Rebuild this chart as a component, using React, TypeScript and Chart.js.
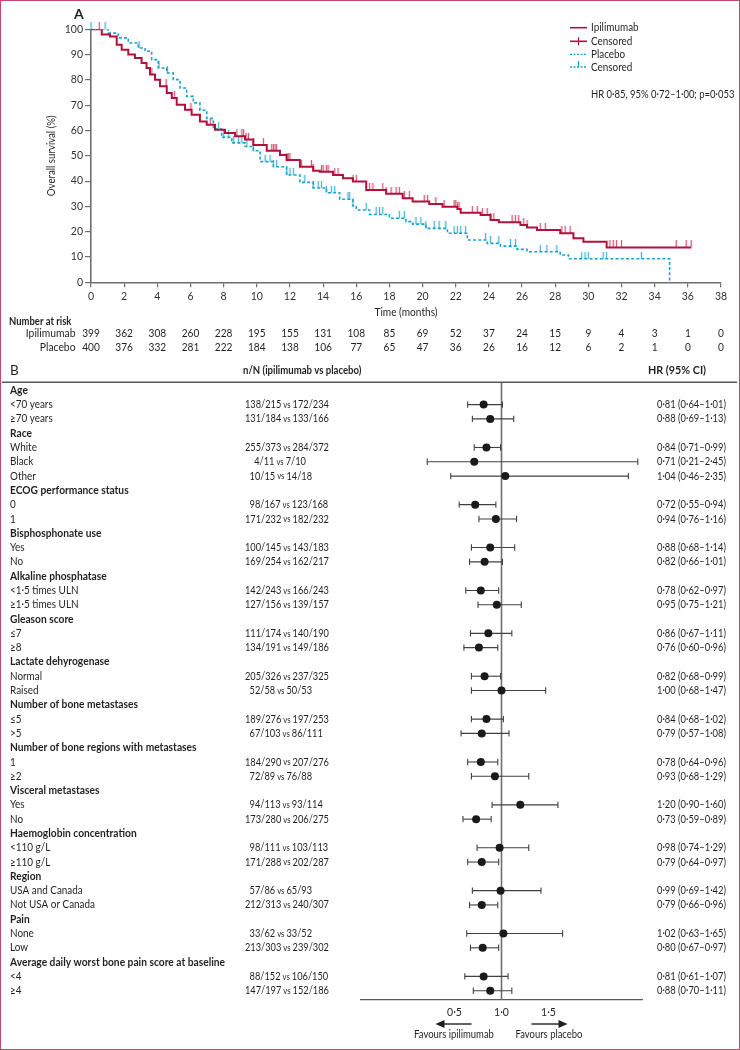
import React, { useEffect, useRef } from "react";
import { Chart, registerables } from "chart.js";

Chart.register(...registerables);

const FONT = "Lato, 'Noto Sans', sans-serif";
const INK = "#231f20";
const AXIS = "#6d6e71";
const RED = "#b0123c";
const RED_TICK = "#d4587c";
const CYAN = "#1ba2cb";
const CYAN_TICK = "#45b4d8";

// ---------- Panel A data ----------
const monthTicks = [0, 2, 4, 6, 8, 10, 12, 14, 16, 18, 20, 22, 24, 26, 28, 30, 32, 34, 36, 38];
const survivalTicks = [0, 10, 20, 30, 40, 50, 60, 70, 80, 90, 100];

const ipiTime = [0, 0.65, 1.15, 1.55, 1.85, 2.25, 2.65, 3.05, 3.35, 3.56, 3.86, 4.16, 4.57, 4.87, 5.17, 5.67, 6.07, 6.57, 6.98, 7.48, 8.08, 8.69, 9.29, 9.79, 10.6, 11.4, 11.8, 12.6, 13.4, 13.8, 14.6, 15.2, 15.8, 16.6, 17.8, 18.8, 19.4, 20.4, 21.2, 22.1, 22.3, 23.5, 24.1, 24.6, 25.9, 26.3, 26.9, 28.3, 29.1, 29.7, 31.1, 36.2];
const ipiSurv = [100, 97.9, 97.2, 93.9, 91.9, 90.0, 88.7, 86.7, 84.7, 82.1, 80.1, 77.5, 74.8, 72.8, 70.2, 68.2, 66.2, 63.6, 62.3, 60.3, 59.0, 57.7, 56.4, 54.3, 52.0, 50.3, 48.3, 45.7, 44.1, 43.7, 42.4, 41.1, 39.8, 36.5, 35.0, 33.2, 31.9, 30.9, 29.9, 29.0, 27.5, 26.6, 24.6, 23.7, 22.6, 21.7, 20.7, 19.4, 17.4, 16.0, 13.8, 13.8];

const plaTime = [0, 1.04, 1.65, 2.25, 2.85, 3.26, 3.66, 4.06, 4.57, 4.96, 5.37, 5.77, 6.17, 6.57, 6.98, 7.38, 7.88, 8.49, 9.29, 9.79, 10.2, 11.0, 11.8, 12.6, 13.4, 14.2, 15.0, 15.8, 16.0, 16.8, 18.0, 19.0, 19.4, 20.2, 21.5, 22.7, 23.9, 24.7, 25.7, 26.3, 28.3, 28.8, 34.9, 34.9];
const plaSurv = [100, 98.5, 96.6, 94.6, 92.6, 91.3, 88.0, 84.7, 82.7, 80.1, 76.8, 73.5, 70.9, 68.0, 64.8, 60.6, 57.3, 55.1, 53.7, 52.0, 47.7, 45.7, 42.4, 39.5, 37.3, 35.4, 32.8, 30.2, 28.6, 26.8, 25.3, 24.0, 23.0, 21.3, 19.4, 16.7, 15.4, 14.3, 13.0, 12.1, 10.8, 9.3, 9.3, 0];

const ipiCensorTimes = [0.5, 3.67, 4.53, 5.03, 6.03, 7.2, 8.8, 9.1, 9.2, 9.35, 9.5, 9.8, 10.4, 10.9, 11.0, 11.1, 11.2, 11.8, 11.9, 12.0, 12.7, 13.3, 13.4, 13.9, 14.0, 14.2, 14.3, 14.7, 14.9, 15.8, 16.0, 16.8, 17.0, 17.6, 17.8, 18.1, 18.4, 18.6, 18.9, 19.2, 20.1, 20.3, 20.8, 21.3, 21.9, 22.0, 22.1, 22.2, 23.0, 23.3, 23.6, 23.9, 24.1, 24.3, 25.4, 25.6, 25.8, 26.1, 26.3, 27.1, 27.4, 28.4, 28.6, 28.9, 31.3, 31.5, 31.7, 32.0, 35.3, 35.9, 36.2];
const plaCensorTimes = [0, 0.85, 2.9, 4.1, 4.6, 7.7, 8.0, 8.3, 8.6, 8.9, 9.1, 9.4, 9.8, 10.5, 10.8, 11.0, 11.2, 11.8, 12.0, 12.2, 12.9, 13.4, 13.7, 13.9, 14.2, 14.5, 14.7, 15.5, 15.6, 15.8, 16.6, 17.2, 17.4, 17.6, 18.6, 18.9, 19.6, 19.9, 20.2, 20.7, 21.0, 21.4, 21.9, 22.1, 22.3, 22.6, 23.8, 24.1, 24.6, 25.3, 25.6, 27.1, 27.5, 28.1, 29.6, 29.8, 30.0, 30.9, 31.1, 33.2];

const ipiAtRisk = [399, 362, 308, 260, 228, 195, 155, 131, 108, 85, 69, 52, 37, 24, 15, 9, 4, 3, 1, 0];
const plaAtRisk = [400, 376, 332, 281, 222, 184, 138, 106, 77, 65, 47, 36, 26, 16, 12, 6, 2, 1, 0, 0];

const legendLabels = ["Ipilimumab", "Censored", "Placebo", "Censored"];
const hrSummary = "HR 0·85, 95% 0·72–1·00; p=0·053";

// ---------- Panel B data ----------
const groupNames = [
  "Age", "Race", "ECOG performance status", "Bisphosphonate use", "Alkaline phosphatase",
  "Gleason score", "Lactate dehyrogenase", "Number of bone metastases",
  "Number of bone regions with metastases", "Visceral metastases", "Haemoglobin concentration",
  "Region", "Pain", "Average daily worst bone pain score at baseline",
];
const groupSizes = [2, 3, 2, 2, 2, 2, 2, 2, 2, 2, 2, 2, 2, 2];
const subgroupLabels = [
  "<70 years", "≥70 years", "White", "Black", "Other", "0", "1", "Yes", "No",
  "<1·5 times ULN", "≥1·5 times ULN", "≤7", "≥8", "Normal", "Raised", "≤5", ">5",
  "1", "≥2", "Yes", "No", "<110 g/L", "≥110 g/L", "USA and Canada", "Not USA or Canada",
  "None", "Low", "<4", "≥4",
];
const eventsIpi = ["138/215", "131/184", "255/373", "4/11", "10/15", "98/167", "171/232", "100/145", "169/254", "142/243", "127/156", "111/174", "134/191", "205/326", "52/58", "189/276", "67/103", "184/290", "72/89", "94/113", "173/280", "98/111", "171/288", "57/86", "212/313", "33/62", "213/303", "88/152", "147/197"];
const eventsPla = ["172/234", "133/166", "284/372", "7/10", "14/18", "123/168", "182/232", "143/183", "162/217", "166/243", "139/157", "140/190", "149/186", "237/325", "50/53", "197/253", "86/111", "207/276", "76/88", "93/114", "206/275", "103/113", "202/287", "65/93", "240/307", "33/52", "239/302", "106/150", "152/186"];
const hrValues = [0.81, 0.88, 0.84, 0.71, 1.04, 0.72, 0.94, 0.88, 0.82, 0.78, 0.95, 0.86, 0.76, 0.82, 1.00, 0.84, 0.79, 0.78, 0.93, 1.20, 0.73, 0.98, 0.79, 0.99, 0.79, 1.02, 0.80, 0.81, 0.88];
const ciLower = [0.64, 0.69, 0.71, 0.21, 0.46, 0.55, 0.76, 0.68, 0.66, 0.62, 0.75, 0.67, 0.60, 0.68, 0.68, 0.68, 0.57, 0.64, 0.68, 0.90, 0.59, 0.74, 0.64, 0.69, 0.66, 0.63, 0.67, 0.61, 0.70];
const ciUpper = [1.01, 1.13, 0.99, 2.45, 2.35, 0.94, 1.16, 1.14, 1.01, 0.97, 1.21, 1.11, 0.96, 0.99, 1.47, 1.02, 1.08, 0.96, 1.29, 1.60, 0.89, 1.29, 0.97, 1.42, 0.96, 1.65, 0.97, 1.07, 1.11];
const hrTicks = [0.5, 1.0, 1.5];

// ---------- helpers ----------
type Row = { kind: "group" | "sub"; idx: number };
const rows: Row[] = [];
{
  let s = 0;
  groupNames.forEach((_, gi) => {
    rows.push({ kind: "group", idx: gi });
    for (let k = 0; k < groupSizes[gi]; k++) rows.push({ kind: "sub", idx: s++ });
  });
}
const subRow: number[] = [];
rows.forEach((r, ri) => { if (r.kind === "sub") subRow[r.idx] = ri; });

const fmt = (v: number) => v.toFixed(2).replace(".", "·");

function survAt(times: number[], surv: number[], t: number) {
  let s = surv[0];
  for (let i = 0; i < times.length; i++) {
    if (times[i] <= t) s = surv[i];
    else break;
  }
  return s;
}

function tickImage(color: string, up: number, down: number) {
  const c = document.createElement("canvas");
  const half = Math.max(up, down);
  c.width = 3;
  c.height = half * 2;
  const g = c.getContext("2d")!;
  g.strokeStyle = color;
  g.lineWidth = 1.3;
  g.beginPath();
  g.moveTo(1.5, half - up);
  g.lineTo(1.5, half + down);
  g.stroke();
  return c;
}

// draws text with a horizontal condensing factor (cond), returns drawn width
function text(
  ctx: CanvasRenderingContext2D, s: string, x: number, y: number,
  size: number, cond: number, bold = false, align: CanvasTextAlign = "left", color = INK,
) {
  ctx.font = `${bold ? "bold " : ""}${size}px ${FONT}`;
  ctx.textAlign = align;
  ctx.textBaseline = "middle";
  ctx.fillStyle = color;
  const w = ctx.measureText(s).width * cond;
  ctx.fillText(s, x, y, w);
  return w;
}

function seg(ctx: CanvasRenderingContext2D, x0: number, y0: number, x1: number, y1: number) {
  ctx.beginPath();
  ctx.moveTo(x0, y0);
  ctx.lineTo(x1, y1);
  ctx.stroke();
}

const panelAPlugin = {
  id: "panelA",
  afterDraw(chart: any) {
    const ctx: CanvasRenderingContext2D = chart.ctx;
    const xs = chart.scales.x;
    const ys = chart.scales.y;
    ctx.save();
    text(ctx, "A", 74, 14, 14, 1, true);
    ctx.save();
    ctx.translate(52, (ys.top + ys.bottom) / 2);
    ctx.rotate(-Math.PI / 2);
    text(ctx, "Overall survival (%)", 0, 0, 10.5, 0.92, false, "center");
    ctx.restore();
    text(ctx, "Time (months)", (xs.left + xs.right) / 2, 312, 11, 0.92, false, "center");

    // legend
    const lx0 = 570, lx1 = 587, tx = 591;
    const ly = [27.7, 41.3, 54.3, 67];
    ctx.lineWidth = 1.6;
    ctx.strokeStyle = RED;
    ctx.setLineDash([]);
    seg(ctx, lx0, ly[0], lx1, ly[0]);
    seg(ctx, lx0, ly[1], lx1, ly[1]);
    ctx.lineWidth = 1.2;
    seg(ctx, (lx0 + lx1) / 2, ly[1] - 4, (lx0 + lx1) / 2, ly[1] + 4);
    ctx.strokeStyle = CYAN;
    ctx.lineWidth = 1.3;
    ctx.setLineDash([2, 1.5]);
    seg(ctx, lx0, ly[2], lx1, ly[2]);
    seg(ctx, lx0, ly[3], lx1, ly[3]);
    ctx.setLineDash([]);
    seg(ctx, (lx0 + lx1) / 2, ly[3] - 6, (lx0 + lx1) / 2, ly[3]);
    legendLabels.forEach((l, i) => text(ctx, l, tx, ly[i], 11, 0.9));
    text(ctx, hrSummary, tx, 94.3, 11, 0.86);

    // number at risk
    text(ctx, "Number at risk", 9, 321, 11, 0.86, true);
    text(ctx, "Ipilimumab", 75.5, 333.5, 11, 0.94, false, "right");
    text(ctx, "Placebo", 75.5, 347, 11, 0.94, false, "right");
    monthTicks.forEach((t, i) => {
      const x = xs.getPixelForValue(t);
      text(ctx, String(ipiAtRisk[i]), x, 333.5, 11, 0.92, false, "center");
      text(ctx, String(plaAtRisk[i]), x, 347, 11, 0.92, false, "center");
    });
    ctx.restore();
  },
};

const panelBPlugin = {
  id: "panelB",
  beforeDatasetsDraw(chart: any) {
    const ctx: CanvasRenderingContext2D = chart.ctx;
    const xs = chart.scales.x;
    const ys = chart.scales.y;
    const ca = chart.chartArea;
    ctx.save();
    const x1 = xs.getPixelForValue(1);
    ctx.strokeStyle = "#6f7073";
    ctx.lineWidth = 1.6;
    seg(ctx, x1, ca.top, x1, ca.bottom);
    ctx.strokeStyle = "#414042";
    ctx.lineWidth = 1.1;
    hrValues.forEach((_, i) => {
      const y = ys.getPixelForValue(subRow[i]);
      const a = xs.getPixelForValue(ciLower[i]);
      const b = xs.getPixelForValue(ciUpper[i]);
      seg(ctx, a, y, b, y);
      seg(ctx, a, y - 3.2, a, y + 3.2);
      seg(ctx, b, y - 3.2, b, y + 3.2);
    });
    ctx.restore();
  },
  afterDraw(chart: any) {
    const ctx: CanvasRenderingContext2D = chart.ctx;
    const xs = chart.scales.x;
    const ys = chart.scales.y;
    ctx.save();
    text(ctx, "B", 10, 370.7, 13.5, 1);
    text(ctx, "n/N (ipilimumab vs placebo)", 243, 370.7, 11, 0.87, true);
    text(ctx, "HR (95% CI)", 648, 370.7, 11, 0.98, true);
    ctx.strokeStyle = "#58595b";
    ctx.lineWidth = 1.5;
    seg(ctx, 2, 382.3, 737, 382.3);

    rows.forEach((r, ri) => {
      const y = ys.getPixelForValue(ri);
      if (r.kind === "group") {
        text(ctx, groupNames[r.idx], 10, y, 11, 0.93, true);
      } else {
        const i = r.idx;
        text(ctx, subgroupLabels[i], 10, y, 11, 0.9);
        const digits = eventsIpi[i].split("/")[0].length;
        let x = 245 + (3 - digits) * 4.6;
        x += text(ctx, eventsIpi[i], x, y, 11, 0.84);
        x += text(ctx, " vs ", x, y + 0.5, 9, 0.86);
        text(ctx, eventsPla[i], x, y, 11, 0.84);
        text(ctx, `${fmt(hrValues[i])} (${fmt(ciLower[i])}–${fmt(ciUpper[i])})`, 657, y, 11, 0.85);
      }
    });

    // favours arrows
    const x1 = xs.getPixelForValue(1);
    const ay = 1024;
    ctx.strokeStyle = INK;
    ctx.fillStyle = INK;
    ctx.lineWidth = 1.4;
    seg(ctx, x1 - 30, ay, x1 - 58, ay);
    ctx.beginPath();
    ctx.moveTo(x1 - 66, ay);
    ctx.lineTo(x1 - 57, ay - 4);
    ctx.lineTo(x1 - 57, ay + 4);
    ctx.closePath();
    ctx.fill();
    seg(ctx, x1 + 30, ay, x1 + 58, ay);
    ctx.beginPath();
    ctx.moveTo(x1 + 66, ay);
    ctx.lineTo(x1 + 57, ay - 4);
    ctx.lineTo(x1 + 57, ay + 4);
    ctx.closePath();
    ctx.fill();
    text(ctx, "Favours ipilimumab", x1 - 47.5, 1034.5, 11, 0.86, false, "center");
    text(ctx, "Favours placebo", x1 + 47.5, 1034.5, 11, 0.86, false, "center");
    ctx.restore();
  },
};

export default function App() {
  const refA = useRef<HTMLCanvasElement>(null);
  const refB = useRef<HTMLCanvasElement>(null);

  useEffect(() => {
    Chart.defaults.font.family = FONT;
    const redTick = tickImage(RED_TICK, 7, 0);
    const cyanTick = tickImage(CYAN_TICK, 7, 0);

    const chartA = new Chart(refA.current!, {
      type: "line",
      data: {
        datasets: [
          {
            label: "Ipilimumab",
            data: ipiTime.map((t, i) => ({ x: t, y: ipiSurv[i] })),
            borderColor: RED,
            borderWidth: 2,
            stepped: true,
            pointRadius: 0,
            fill: false,
          },
          {
            label: "Placebo",
            data: plaTime.map((t, i) => ({ x: t, y: plaSurv[i] })),
            borderColor: CYAN,
            borderWidth: 1.6,
            borderDash: [3, 2.2],
            stepped: true,
            pointRadius: 0,
            fill: false,
          },
          {
            label: "Ipilimumab censored",
            data: ipiCensorTimes.map((t) => ({ x: t, y: survAt(ipiTime, ipiSurv, t) })),
            showLine: false,
            pointStyle: redTick as any,
            pointRadius: 3,
            clip: false as any,
          },
          {
            label: "Placebo censored",
            data: plaCensorTimes.map((t) => ({ x: t, y: survAt(plaTime, plaSurv, t) })),
            showLine: false,
            pointStyle: cyanTick as any,
            pointRadius: 3,
            clip: false as any,
          },
        ],
      },
      options: {
        responsive: false,
        maintainAspectRatio: false,
        animation: false,
        devicePixelRatio: 1,
        events: [],
        layout: { padding: { left: 0, right: 19, top: 29.3, bottom: 1050 - 282.3 - 20 } },
        plugins: { legend: { display: false }, tooltip: { enabled: false } },
        scales: {
          x: {
            type: "linear",
            min: 0,
            max: 38,
            afterBuildTicks: (s: any) => { s.ticks = monthTicks.map((v) => ({ value: v })); },
            afterFit: (s: any) => { s.height = 20; },
            ticks: { autoSkip: false, maxRotation: 0, padding: 3, color: "#333", font: { size: 10.5, family: FONT } },
            grid: { display: true, drawOnChartArea: false, drawTicks: true, tickLength: 5, color: AXIS, lineWidth: 1.2 },
            border: { display: true, color: AXIS, width: 1.6 },
          },
          y: {
            type: "linear",
            min: 0,
            max: 100,
            afterBuildTicks: (s: any) => { s.ticks = survivalTicks.map((v) => ({ value: v })); },
            afterFit: (s: any) => { s.width = 91; },
            ticks: { autoSkip: false, padding: 2, color: "#333", font: { size: 10.5, family: FONT } },
            grid: { display: true, drawOnChartArea: false, drawTicks: true, tickLength: 6, color: AXIS, lineWidth: 1.2 },
            border: { display: true, color: AXIS, width: 1.6 },
          },
        },
      } as any,
      plugins: [panelAPlugin],
    });

    const chartB = new Chart(refB.current!, {
      type: "scatter",
      data: {
        datasets: [
          {
            label: "HR",
            data: hrValues.map((v, i) => ({ x: v, y: subRow[i] })),
            pointRadius: 4,
            backgroundColor: "#1a1a1a",
            borderColor: "#1a1a1a",
            borderWidth: 0,
          },
        ],
      },
      options: {
        responsive: false,
        maintainAspectRatio: false,
        animation: false,
        devicePixelRatio: 1,
        events: [],
        layout: { padding: { left: 360.5, right: 97.5, top: 382.3, bottom: 30 } },
        plugins: { legend: { display: false }, tooltip: { enabled: false } },
        scales: {
          x: {
            type: "linear",
            min: -0.5,
            max: 2.5,
            afterBuildTicks: (s: any) => { s.ticks = hrTicks.map((v) => ({ value: v })); },
            afterFit: (s: any) => { s.height = 20; },
            ticks: {
              autoSkip: false,
              maxRotation: 0,
              padding: 6,
              color: INK,
              font: { size: 10.5, family: FONT },
              callback: (v: any) => Number(v).toFixed(1).replace(".", "·"),
            },
            grid: { display: false, drawTicks: false },
            border: { display: true, color: "#58595b", width: 1.3 },
          },
          y: {
            type: "linear",
            display: false,
            reverse: true,
            min: -0.56,
            max: 42.65,
          },
        },
      } as any,
      plugins: [panelBPlugin],
    });

    return () => {
      chartA.destroy();
      chartB.destroy();
    };
  }, []);

  return (
    <div style={{ position: "absolute", left: 0, top: 0, width: 740, height: 1050, background: "#fff", overflow: "hidden" }}>
      <canvas ref={refA} width={740} height={1050} style={{ position: "absolute", left: 0, top: 0 }} />
      <canvas ref={refB} width={740} height={1050} style={{ position: "absolute", left: 0, top: 0 }} />
      <div style={{ position: "absolute", left: 0, top: 0, width: 740, height: 1050, boxSizing: "border-box", border: "1px solid #c4486e", pointerEvents: "none" }} />
    </div>
  );
}
